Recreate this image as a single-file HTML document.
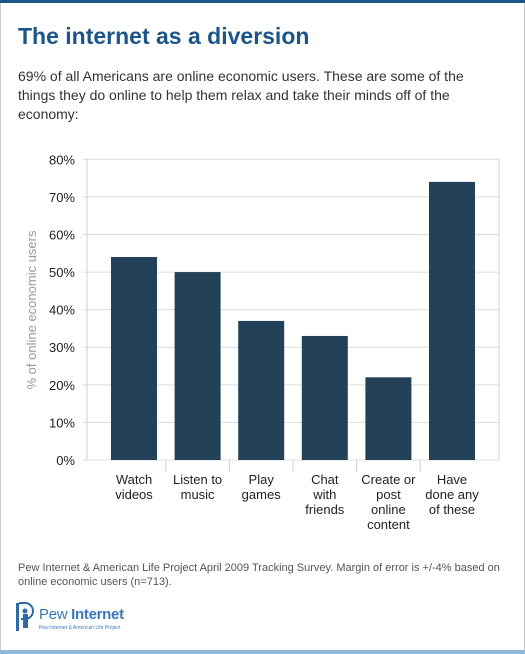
<!DOCTYPE html>
<html><head><meta charset="utf-8"><style>
body{margin:0;width:525px;height:654px;position:relative;background:#fff;font-family:"Liberation Sans",sans-serif;overflow:hidden}
.frame{position:absolute;left:0;top:0;width:523px;height:652px;border:1px solid #c8c8c8}
.topbar{position:absolute;left:0;top:0;width:525px;height:3px;background:#1d5589}
.botbar{position:absolute;left:0;top:650px;width:525px;height:4px;background:#90b9d9}
h1{position:absolute;left:18px;top:23px;margin:0;font-size:23px;font-weight:bold;color:#1d5589}
.intro{position:absolute;left:18px;top:67px;width:480px;font-size:14px;line-height:19px;color:#333}
.src{position:absolute;left:18px;top:561px;width:505px;font-size:11px;line-height:14px;color:#555}
</style></head><body>
<div class="frame"></div>
<div class="topbar"></div>
<div class="botbar"></div>
<h1>The internet as a diversion</h1>
<div class="intro">69% of all Americans are online economic users. These are some of the things they do online to help them relax and take their minds off of the economy:</div>
<svg id="chart" width="525" height="654" style="position:absolute;left:0;top:0"></svg>
<div class="src">Pew Internet &amp; American Life Project April 2009 Tracking Survey. Margin of error is +/-4% based on online economic users (n=713).</div>
<div style="position:absolute;left:15px;top:601px;width:112px;height:32px">
<svg width="20" height="32" style="position:absolute;left:0;top:0"><rect x="1" y="2" width="3" height="28" fill="#2e6aa8"/><path d="M4 2 H10 A8 8 0 0 1 10 18 H6" fill="none" stroke="#2e6aa8" stroke-width="2"/><circle cx="10" cy="10" r="2.5" fill="#2e6aa8"/><rect x="8" y="13" width="5" height="14" fill="#2e6aa8"/></svg>
<div style="position:absolute;left:24px;top:5px;font-size:15px;color:#3a78b8;white-space:nowrap;letter-spacing:-0.3px">Pew <b>Internet</b></div>
<div style="position:absolute;left:24px;top:24px;font-size:5px;color:#3a78b8;white-space:nowrap">Pew Internet &amp; American Life Project</div>
</div>
<script>
const categories=[["Watch","videos"],["Listen to","music"],["Play","games"],["Chat","with","friends"],["Create or","post","online","content"],["Have","done any","of these"]];
const values=[54,50,37,33,22,74];
const ticks=[0,10,20,30,40,50,60,70,80];
const NS="http://www.w3.org/2000/svg",svg=document.getElementById("chart");
const x0=87,x1=499,yTop=159.3,yZero=460,yMax=80,c0=134,step=63.6,bw=46;
const y=v=>yZero-(v/yMax)*(yZero-yTop);
const xc=i=>c0+i*step;
function mk(t,a){const e=document.createElementNS(NS,t);for(const k in a)e.setAttribute(k,a[k]);svg.appendChild(e);return e;}
ticks.forEach(t=>{
 const g=mk("line",{x1:x0-4,x2:x1,y1:y(t),y2:y(t),stroke:"#dcdcdc","stroke-width":1});
 
 
 const l=mk("text",{x:75,y:y(t)+5,"text-anchor":"end","font-size":13,fill:"#222","font-family":"Liberation Sans, sans-serif"});
 l.textContent=t+"%";
 
 
});
const ax=mk("line",{x1:x0,x2:x0,y1:yTop,y2:yZero,stroke:"#d0d0d0"});


const ra=mk("line",{x1:x1,x2:x1,y1:yTop,y2:yZero,stroke:"#d0d0d0"});


for(let i=0;i<categories.length-1;i++){
 const tk=mk("line",{x1:xc(i)+step/2,x2:xc(i)+step/2,y1:yZero,y2:yZero+12,stroke:"#d0d0d0"});
 
 
}
values.forEach((v,i)=>{
 const r=mk("rect",{x:xc(i)-bw/2,y:y(v),width:bw,height:yZero-y(v),fill:"#23425a"});
 
 
 const t=mk("text",{x:xc(i),y:484,"text-anchor":"middle","font-size":13,fill:"#222","font-family":"Liberation Sans, sans-serif"});
 
 
 categories[i].forEach((ln,j)=>{const s=document.createElementNS(NS,"tspan");s.setAttribute("x",xc(i));s.setAttribute("dy",j?15:0);s.textContent=ln;t.appendChild(s);});
});
const yt=mk("text",{x:0,y:0,transform:"translate(36,310) rotate(-90)","text-anchor":"middle","font-size":13,fill:"#999","font-family":"Liberation Sans, sans-serif"});
yt.textContent="% of online economic users";


</script>
</body></html>
